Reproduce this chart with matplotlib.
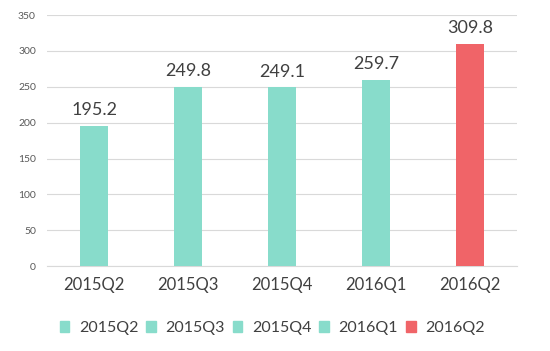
import matplotlib
matplotlib.use('Agg')
import matplotlib.pyplot as plt
from matplotlib.patches import Patch

plt.rcParams['font.family'] = ['Lato', 'DejaVu Sans']

quarters = ['2015Q2', '2015Q3', '2015Q4', '2016Q1', '2016Q2']
values = [195.2, 249.8, 249.1, 259.7, 309.8]
colors = ['#88DCCB', '#88DCCB', '#88DCCB', '#88DCCB', '#F06468']

fig = plt.figure(figsize=(5.5, 3.51), dpi=100)
ax = fig.add_axes([0.0855, 0.242, 0.855, 0.715])

x = range(len(quarters))
bars = ax.bar(x, values, width=0.3, color=colors, zorder=3)
for xi, v in zip(x, values):
    ax.text(xi, v + 11, f'{v:.1f}', ha='center', va='bottom', fontsize=13, color='#404040')

ax.set_xlim(-0.5, len(quarters) - 0.5)
ax.set_ylim(0, 350)
ax.set_yticks(range(0, 351, 50))
ax.yaxis.grid(True, color='#D9D9D9', linewidth=0.8, zorder=0)
ax.tick_params(axis='y', length=0, labelsize=7.5, labelcolor='#595959', pad=8)
ax.tick_params(axis='x', length=0, labelsize=12, labelcolor='#404040', pad=8)
ax.set_xticks(list(x))
ax.set_xticklabels(quarters)
for s in ['top', 'right', 'left']:
    ax.spines[s].set_visible(False)
ax.spines['bottom'].set_color('#D9D9D9')

handles = [Patch(color=c, label=q) for q, c in zip(quarters, colors)]
fig.legend(handles=handles, loc='center', bbox_to_anchor=(0.495, 0.065), ncol=5,
           frameon=False, fontsize=11.5, labelcolor='#404040',
           handlelength=0.6, handleheight=0.6, handletextpad=0.6, columnspacing=0.5)

fig.savefig('out.png', dpi=100)
